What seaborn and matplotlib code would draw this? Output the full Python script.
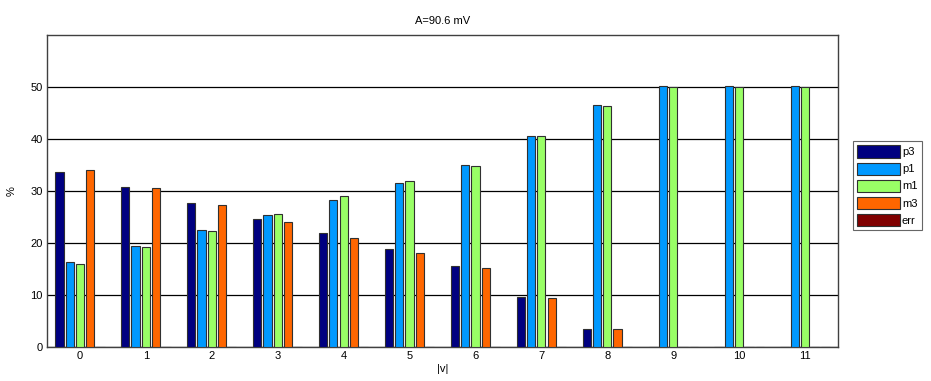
import matplotlib
matplotlib.use("Agg")
import matplotlib.pyplot as plt
import seaborn as sns
import pandas as pd

categories = ["0", "1", "2", "3", "4", "5", "6", "7", "8", "9", "10", "11"]
series_names = ["p3", "p1", "m1", "m3", "err"]
p3 = [33.7, 30.8, 27.6, 24.7, 21.9, 18.8, 15.5, 9.6, 3.5, 0, 0, 0]
p1 = [16.3, 19.4, 22.5, 25.3, 28.3, 31.5, 35.0, 40.5, 46.6, 50.2, 50.2, 50.2]
m1 = [16.0, 19.2, 22.3, 25.6, 29.0, 32.0, 34.9, 40.5, 46.4, 50.0, 50.0, 50.0]
m3 = [34.0, 30.6, 27.4, 24.1, 21.0, 18.0, 15.1, 9.4, 3.4, 0, 0, 0]
err = [0] * 12
colors = ["#000080", "#0099FF", "#99FF66", "#FF6600", "#800000"]
yticks = [0, 10, 20, 30, 40, 50]

rows = []
for name, vals in zip(series_names, [p3, p1, m1, m3, err]):
    for c, v in zip(categories, vals):
        rows.append({"|v|": c, "%": v, "series": name})
df = pd.DataFrame(rows)

sns.set_theme(style="white")
plt.rcParams["font.family"] = ["Liberation Sans", "DejaVu Sans"]
plt.rcParams["font.size"] = 8
plt.rcParams["text.color"] = "black"
plt.rcParams["axes.labelcolor"] = "black"
plt.rcParams["xtick.color"] = "black"
plt.rcParams["ytick.color"] = "black"

fig = plt.figure(figsize=(9.31, 3.81), dpi=100)
ax = fig.add_axes([47 / 931, 1 - 347 / 381, (838 - 47) / 931, (347 - 35) / 381])

sns.barplot(data=df, x="|v|", y="%", hue="series", hue_order=series_names,
            order=categories, palette=colors, width=0.78, gap=0.2,
            edgecolor="#303030", linewidth=0.8, saturation=1, ax=ax,
            errorbar=None, zorder=3)

ax.set_ylim(0, 60)
ax.set_xlim(-0.5, 11.5)
ax.set_yticks(yticks)
ax.yaxis.grid(True, color="black", linewidth=0.9, zorder=0)
ax.set_axisbelow(True)
for s in ax.spines.values():
    s.set_color("#404040")
    s.set_linewidth(1.0)
ax.tick_params(axis="both", labelsize=8, length=3, direction="in", color="#404040", pad=3)
ax.set_xlabel("|v|", fontsize=8, labelpad=2)
ax.set_ylabel("%", fontsize=8, labelpad=10)
ax.set_title("A=90.6 mV", fontsize=8, pad=8)

handles, labels = ax.get_legend_handles_labels()
leg = ax.legend(handles, labels, loc="upper left", bbox_to_anchor=(853 / 931, 1 - 141 / 381),
                bbox_transform=fig.transFigure, frameon=True, fontsize=8,
                handlelength=3.8, handleheight=1.3, labelspacing=0.45,
                handletextpad=0.2, borderpad=0.4, borderaxespad=0, fancybox=False)
leg.get_frame().set_edgecolor("#404040")
leg.get_frame().set_linewidth(0.8)

fig.savefig("out.png", dpi=100)
